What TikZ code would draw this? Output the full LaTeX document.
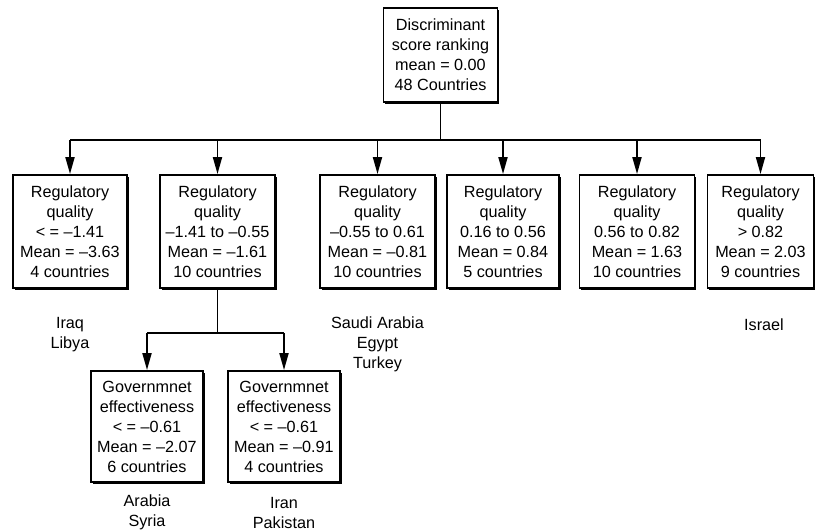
\documentclass[tikz,border=0pt]{standalone}
\usepackage{fontspec}
\setmainfont{Liberation Sans}
\usetikzlibrary{arrows.meta,shadows}
\begin{document}
\begin{tikzpicture}[x=1pt,y=-1pt,
  every node/.style={font=\fontsize{16.2}{20}\selectfont, align=center, inner sep=0pt},
  box/.style={draw, line width=1.8pt, fill=white, minimum width=114pt, minimum height=113pt,
    drop shadow={shadow xshift=1.6pt, shadow yshift=-1.6pt, fill=black, opacity=1}},
  link/.style={line width=1.8pt},
  arr/.style={line width=1.8pt, -{Triangle[length=17pt,width=9pt]}}]
\useasboundingbox (0,0) rectangle (816,530);

% root
\node[box, minimum width=114pt, minimum height=94pt] (root) at (440.5,55)
  {Discriminant\\score ranking\\mean = 0.00\\48 Countries};

% first split: regulatory quality
\node[box, minimum width=114pt] (r1) at (70,231.5)
  {Regulatory\\quality\\< = –1.41\\Mean = –3.63\\4 countries};
\node[box, minimum width=115pt] (r2) at (217.5,231.5)
  {Regulatory\\quality\\–1.41 to –0.55\\Mean = –1.61\\10 countries};
\node[box, minimum width=115pt] (r3) at (377.5,231.5)
  {Regulatory\\quality\\–0.55 to 0.61\\Mean = –0.81\\10 countries};
\node[box, minimum width=112pt] (r4) at (503,231.5)
  {Regulatory\\quality\\0.16 to 0.56\\Mean = 0.84\\5 countries};
\node[box, minimum width=115pt] (r5) at (637,231.5)
  {Regulatory\\quality\\0.56 to 0.82\\Mean = 1.63\\10 countries};
\node[box, minimum width=106pt] (r6) at (760.5,231.5)
  {Regulatory\\quality\\> 0.82\\Mean = 2.03\\9 countries};

% second split: government effectiveness
\node[box, minimum width=112pt, minimum height=111pt] (g1) at (147,426.5)
  {Governmnet\\effectiveness\\< = –0.61\\Mean = –2.07\\6 countries};
\node[box, minimum width=112pt, minimum height=111pt] (g2) at (284,426.5)
  {Governmnet\\effectiveness\\< = –0.61\\Mean = –0.91\\4 countries};

% connectors
\coordinate (bus) at (440.5,140);
\draw[link] (root.south) -- (bus);
\draw[link] (r1.north |- bus) -- (r6.north |- bus);
\foreach \n in {r1,r2,r3,r4,r5,r6}
  \draw[arr] (\n.north |- bus) -- (\n.north);

\coordinate (sub) at (217.5,333);
\draw[link] (r2.south) -- (sub);
\draw[link] (g1.north |- sub) -- (g2.north |- sub);
\draw[arr] (g1.north |- sub) -- (g1.north);
\draw[arr] (g2.north |- sub) -- (g2.north);

% country lists
\node (c1) at (70,335) {Iraq\\Libya};
\node (c3) at (377.5,344) {Saudi Arabia\\Egypt\\Turkey};
\node (c6) at (764,325) {Israel};
\node (cg1) at (147,512.5) {Arabia\\Syria};
\node (cg2) at (284,512.5) {Iran\\Pakistan};
\end{tikzpicture}
\end{document}
